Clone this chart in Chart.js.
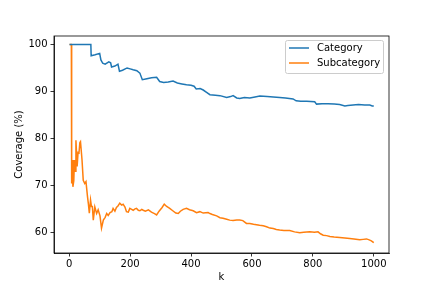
<!DOCTYPE html>
<html>
<head>
<meta charset="utf-8">
<script src="https://cdn.jsdelivr.net/npm/chart.js@4"></script>
<style>
  html, body { margin: 0; padding: 0; background: #fff; }
  #chart { display: block; }
</style>
</head>
<body>
<canvas id="chart" width="432" height="288"></canvas>
<script>
// values
const seriesNames = ['Category', 'Subcategory'];
const xTicks = [0, 200, 400, 600, 800, 1000];
const yTicks = [60, 70, 80, 90, 100];

const categoryK = [1, 71, 72, 85, 100, 104, 110, 118, 130, 136, 139, 150, 160, 165, 175, 190, 200, 210, 222, 232,
  240, 255, 270, 287, 297, 310, 325, 341, 355, 370, 385, 400, 410, 417, 430, 440, 451, 462, 480, 495,
  517, 530, 538, 550, 560, 575, 593, 610, 626, 650, 670, 691, 710, 735, 745, 760, 780, 806, 812, 830,
  850, 870, 888, 905, 915, 932, 950, 970, 987, 995, 1000];
const categoryCov = [100, 100, 97.6, 97.8, 98.1, 96.7, 96.0, 95.8, 96.3, 96.1, 95.2, 95.4, 95.8, 94.3, 94.5, 95.0, 94.8, 94.6, 94.4, 93.9,
  92.5, 92.7, 92.9, 93.0, 92.1, 91.9, 92.0, 92.2, 91.8, 91.6, 91.4, 91.3, 91.1, 90.5, 90.6, 90.3, 89.8, 89.3, 89.2, 89.1,
  88.7, 88.9, 89.1, 88.6, 88.5, 88.7, 88.6, 88.8, 89.0, 88.9, 88.8, 88.7, 88.6, 88.4, 88.0, 87.9, 87.9, 87.8, 87.3, 87.4,
  87.4, 87.3, 87.2, 86.9, 87.0, 87.1, 87.2, 87.1, 87.1, 86.9, 86.9];

const subcategoryK = [1, 7, 8, 10, 12, 15, 17, 19, 22, 26, 29, 32, 35, 37, 40, 42, 46, 51, 55, 60,
  63, 66, 70, 73, 76, 79, 84, 90, 95, 101, 106, 112, 118, 123, 128, 134, 140, 144, 150, 155,
  160, 166, 172, 177, 183, 188, 194, 199, 205, 210, 216, 221, 227, 232, 238, 243, 250, 260, 270, 280,
  287, 295, 305, 312, 320, 330, 340, 350, 358, 365, 374, 385, 395, 407, 418, 429, 440, 456, 462, 470,
  484, 495, 505, 517, 527, 538, 550, 560, 570, 582, 593, 605, 615, 625, 637, 648, 659, 670, 680, 691,
  705, 724, 740, 757, 770, 790, 805, 817, 825, 834, 845, 856, 870, 888, 905, 921, 935, 954, 965, 976,
  985, 992, 1000];
const subcategoryCov = [100, 100, 70.4, 75.4, 69.7, 71.0, 75.4, 73.0, 79.6, 74.0, 77.0, 76.9, 79.1, 79.3, 77.0, 75.4, 71.1, 70.4, 70.8, 67.6,
  66.0, 64.1, 66.9, 65.5, 65.5, 62.6, 65.4, 64.0, 64.8, 63.5, 60.9, 62.6, 63.2, 64.0, 63.6, 64.2, 64.4, 65.1, 64.5, 65.3,
  65.6, 66.2, 65.8, 66.0, 65.4, 64.4, 64.3, 65.1, 64.9, 64.7, 65.0, 65.1, 64.7, 64.6, 64.9, 64.7, 64.5, 64.8, 64.3, 64.0,
  63.7, 64.5, 65.3, 66.0, 65.5, 65.1, 64.6, 64.1, 64.0, 64.5, 64.9, 65.1, 64.8, 64.6, 64.2, 64.4, 64.1, 64.2, 64.0, 63.8,
  63.5, 63.1, 63.0, 62.8, 62.6, 62.5, 62.6, 62.6, 62.5, 61.9, 61.9, 61.7, 61.6, 61.5, 61.4, 61.2, 60.9, 60.8, 60.6, 60.5,
  60.4, 60.4, 60.1, 59.9, 60.0, 60.1, 60.0, 60.1, 59.7, 59.4, 59.3, 59.1, 59.0, 58.9, 58.8, 58.7, 58.6, 58.4, 58.5, 58.6,
  58.4, 58.2, 57.8];

const colors = ['#1f77b4', '#ff7f0e'];
const FONT = 'DejaVu Sans';

function toPoints(ks, vs) {
  return ks.map((k, i) => ({ x: k, y: vs[i] }));
}

// axes frame + legend box drawn like the original figure
const framePlugin = {
  id: 'frame',
  afterDraw(chart) {
    const { ctx, chartArea: a } = chart;
    ctx.save();
    ctx.strokeStyle = '#000';
    ctx.lineWidth = 0.8;
    ctx.strokeRect(a.left, a.top, a.right - a.left, a.bottom - a.top);

    // legend
    const bx = 285.5, by = 40.5, bw = 98, bh = 33;
    ctx.fillStyle = 'rgba(255,255,255,0.8)';
    ctx.strokeStyle = '#cccccc';
    ctx.lineWidth = 1;
    ctx.beginPath();
    ctx.roundRect(bx, by, bw, bh, 2);
    ctx.fill();
    ctx.stroke();
    ctx.font = '10px "' + FONT + '"';
    ctx.textBaseline = 'middle';
    ctx.fillStyle = '#000';
    chart.data.datasets.forEach((ds, i) => {
      const y = 48 + i * 15;
      ctx.strokeStyle = ds.borderColor;
      ctx.lineWidth = 1.5;
      ctx.beginPath();
      ctx.moveTo(289, y);
      ctx.lineTo(309, y);
      ctx.stroke();
      ctx.fillText(ds.label, 317, y);
    });
    ctx.restore();
  }
};

new Chart(document.getElementById('chart'), {
  type: 'line',
  data: {
    datasets: [
      { label: seriesNames[0], data: toPoints(categoryK, categoryCov), borderColor: colors[0], backgroundColor: colors[0] },
      { label: seriesNames[1], data: toPoints(subcategoryK, subcategoryCov), borderColor: colors[1], backgroundColor: colors[1] },
    ],
  },
  options: {
    responsive: false, animation: false,
    layout: { padding: { left: 0, top: 36, right: 43, bottom: 0 } },
    elements: { point: { radius: 0 }, line: { borderWidth: 1.5, tension: 0 } },
    plugins: { legend: { display: false }, tooltip: { enabled: false } },
    scales: {
      x: {
        type: 'linear', min: -50, max: 1050,
        afterBuildTicks: s => { s.ticks = xTicks.map(v => ({ value: v })); },
        afterFit: s => { s.height = 35; },
        ticks: { color: '#000', font: { family: FONT, size: 10 }, padding: 2, maxRotation: 0, callback: v => String(v) },
        grid: { drawOnChartArea: false, color: '#000', lineWidth: 0.8, tickLength: 3.5 },
        border: { display: true, color: '#000', width: 0.8 },
        title: { display: true, text: 'k', color: '#000', font: { family: FONT, size: 10 }, padding: { top: 2, bottom: 5 } },
      },
      y: {
        type: 'linear', min: 55.6, max: 101.8,
        afterBuildTicks: s => { s.ticks = yTicks.map(v => ({ value: v })); },
        afterFit: s => { s.width = 54; },
        ticks: { color: '#000', font: { family: FONT, size: 10 }, padding: 3 },
        grid: { drawOnChartArea: false, color: '#000', lineWidth: 0.8, tickLength: 3.5 },
        border: { display: true, color: '#000', width: 0.8 },
        title: { display: true, text: 'Coverage (%)', color: '#000', font: { family: FONT, size: 10 }, padding: { top: 13, bottom: 0 } },
      },
    },
  },
  plugins: [framePlugin],
});
</script>
</body>
</html>
